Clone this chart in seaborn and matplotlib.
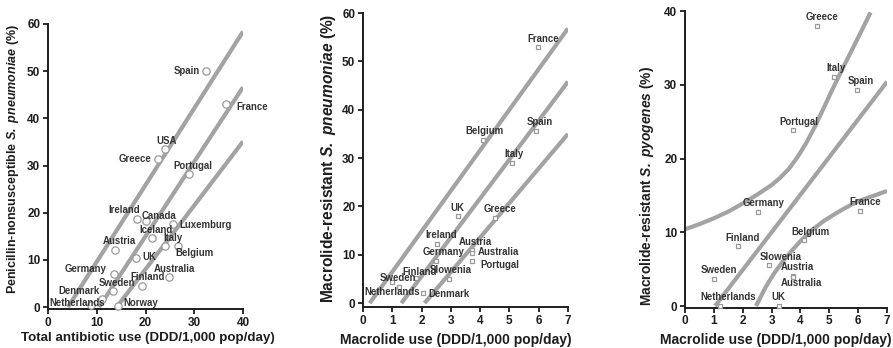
import matplotlib
matplotlib.use("Agg")
import matplotlib.pyplot as plt
import seaborn as sns
import pandas as pd

# ---- Panel A: total antibiotic use vs penicillin-nonsusceptible S. pneumoniae
pen_countries = ["Spain", "France", "USA", "Greece", "Portugal", "Ireland", "Canada",
                 "Luxemburg", "Iceland", "Italy", "Belgium", "Austria", "UK", "Germany",
                 "Australia", "Finland", "Sweden", "Denmark", "Netherlands", "Norway"]
pen_use = [32.5, 36.6, 23.9, 22.6, 28.9, 18.3, 20.2, 25.6, 21.3, 23.9, 26.7, 13.7,
           18.0, 13.5, 24.8, 19.3, 13.4, 11.0, 8.9, 14.4]
pen_res = [50.1, 43.0, 33.4, 31.3, 28.1, 18.7, 18.2, 17.7, 14.7, 13.0, 13.0, 12.0,
           10.3, 6.9, 6.4, 4.4, 3.3, 1.6, 0.4, 0.2]
pen_fit_x = [10.5, 40.0]
pen_fit_y = [0.0, 46.6]
pen_hi_x = [4.1, 40.0]
pen_hi_y = [0.0, 58.4]
pen_lo_x = [14.1, 40.0]
pen_lo_y = [0.0, 35.1]

# ---- Panel B: macrolide use vs macrolide-resistant S. pneumoniae
spn_countries = ["France", "Spain", "Belgium", "Italy", "UK", "Greece", "Ireland",
                 "Austria", "Australia", "Germany", "Portugal", "Slowenia", "Finland",
                 "Sweden", "Netherlands", "Denmark"]
spn_use = [5.98, 5.90, 4.11, 5.10, 3.23, 4.50, 2.53, 3.71, 3.71, 2.50, 3.71, 2.93,
           1.80, 1.00, 1.23, 2.05]
spn_res = [53.0, 35.6, 33.7, 29.0, 18.0, 17.7, 12.2, 11.0, 10.4, 8.8, 8.75, 5.0,
           5.3, 4.3, 3.4, 2.1]
spn_fit_x = [1.31, 7.0]
spn_fit_y = [0.0, 45.8]
spn_hi_x = [0.23, 7.0]
spn_hi_y = [0.0, 56.8]
spn_lo_x = [2.1, 7.0]
spn_lo_y = [0.0, 35.0]

# ---- Panel C: macrolide use vs macrolide-resistant S. pyogenes
spy_countries = ["Greece", "Italy", "Spain", "Portugal", "Germany", "France", "Belgium",
                 "Finland", "Slowenia", "Austria", "Australia", "Sweden", "Netherlands", "UK"]
spy_use = [4.56, 5.16, 5.96, 3.73, 2.53, 6.06, 4.14, 1.82, 2.92, 3.73, 3.73, 1.01, 1.21, 3.25]
spy_res = [38.0, 31.0, 29.3, 23.9, 12.7, 12.9, 8.9, 8.1, 5.6, 4.1, 3.9, 3.7, 0.0, 0.0]
spy_fit_x = [1.04, 7.0]
spy_fit_y = [0.0, 30.4]
spy_hi_x = [0.0, 0.5, 1.0, 1.5, 2.0, 2.5, 3.0, 3.3, 3.6, 3.9, 4.2, 4.5, 4.8,
            5.1, 5.5, 6.0, 6.43]
spy_hi_y = [10.4, 11.1, 11.9, 12.8, 13.9, 15.1, 16.4, 17.4, 18.6, 20.2, 22.1, 24.3, 26.8,
            29.3, 32.5, 36.4, 39.8]
spy_lo_x = [2.46, 2.8, 3.1, 3.4, 3.7, 4.0, 4.4, 4.8, 5.2, 5.6, 6.0, 6.5, 7.0]
spy_lo_y = [0.0, 2.6, 4.5, 6.1, 7.5, 8.8, 10.3, 11.5, 12.5, 13.4, 14.2, 14.9, 15.6]

# label placement: (dx, dy) in pixels from the marker, horizontal alignment
pen_label_pos = {
    "Spain": (-7, 0, "right"), "France": (10, -3, "left"), "USA": (2, 8, "center"),
    "Greece": (-7, 0, "right"), "Portugal": (4, 8, "center"), "Ireland": (-13, 9, "center"),
    "Canada": (13, 5, "center"), "Luxemburg": (7, -1, "left"), "Iceland": (4, 8, "center"),
    "Italy": (8, 8, "center"), "Belgium": (16, -7, "center"), "Austria": (5, 9, "center"),
    "UK": (7, 1, "left"), "Germany": (-7, 5, "right"), "Australia": (6, 8, "center"),
    "Finland": (5, 9, "center"), "Sweden": (4, 8, "center"), "Denmark": (-23, 8, "center"),
    "Netherlands": (-14, 2, "center"), "Norway": (5, 3, "left"),
}
spn_label_pos = {
    "France": (5, 8, "center"), "Spain": (4, 9, "center"), "Belgium": (1, 9, "center"),
    "Italy": (2, 9, "center"), "UK": (0, 8, "center"), "Greece": (5, 9, "center"),
    "Ireland": (4, 9, "center"), "Austria": (4, 8, "center"), "Australia": (6, 1, "left"),
    "Germany": (7, 9, "center"), "Portugal": (9, -4, "left"), "Slowenia": (2, 9, "center"),
    "Finland": (4, 6, "center"), "Sweden": (6, 4, "center"), "Netherlands": (-7, -5, "center"),
    "Denmark": (5, -1, "left"),
}
spy_label_pos = {
    "Greece": (5, 9, "center"), "Italy": (2, 9, "center"), "Spain": (4, 9, "center"),
    "Portugal": (6, 8, "center"), "Germany": (6, 9, "center"), "France": (5, 9, "center"),
    "Belgium": (6, 8, "center"), "Finland": (5, 8, "center"), "Slowenia": (11, 8, "center"),
    "Austria": (5, 9, "center"), "Australia": (9, -6, "center"), "Sweden": (5, 9, "center"),
    "Netherlands": (8, 9, "center"), "UK": (0, 9, "center"),
}

sns.set_style("ticks")
plt.rcParams["font.family"] = ["Liberation Sans", "DejaVu Sans"]
plt.rcParams["font.weight"] = "bold"
plt.rcParams["mathtext.fontset"] = "custom"
plt.rcParams["mathtext.rm"] = "Liberation Sans:bold"
plt.rcParams["mathtext.it"] = "Liberation Sans:bold:italic"
plt.rcParams["mathtext.bf"] = "Liberation Sans:bold"
plt.rcParams["mathtext.bfit"] = "Liberation Sans:bold:italic"

W, H = 893, 348
fig = plt.figure(figsize=(W / 100, H / 100), dpi=100)

LINE_COLOR = "#a3a3a3"
MARK_COLOR = "#9a9a9a"
LABEL_COLOR = "#333333"
AXIS_COLOR = "#1e1e1e"


def panel(rect, countries, xs, ys, fits, label_pos, marker, msize,
          xlim, ylim, xticks, yticks, xlabel, ylabel,
          xlab_size, xlab_coords, ylab_size, ylab_coords):
    ax = fig.add_axes(rect)
    for fx, fy in fits:
        sns.lineplot(x=fx, y=fy, ax=ax, color=LINE_COLOR, linewidth=3.0,
                     sort=False, estimator=None, solid_capstyle="butt")
    df = pd.DataFrame({"country": countries, "use": xs, "res": ys})
    sns.scatterplot(data=df, x="use", y="res", ax=ax, marker=marker, s=msize,
                    facecolor="white", edgecolor=MARK_COLOR, linewidth=0.9,
                    zorder=3, clip_on=False)
    for c, x, y in zip(countries, xs, ys):
        dx, dy, ha = label_pos[c]
        ax.annotate(c, (x, y), xytext=(dx, dy), textcoords="offset pixels",
                    ha=ha, va="center", fontsize=6.9, fontweight="bold",
                    color=LABEL_COLOR, zorder=4, annotation_clip=False)
    ax.set_xlim(*xlim)
    ax.set_ylim(*ylim)
    ax.set_xticks(xticks)
    ax.set_yticks(yticks)
    ax.tick_params(axis="both", direction="out", length=3.5, width=1.3,
                   labelsize=8.5, pad=2, color=AXIS_COLOR, labelcolor=AXIS_COLOR)
    for lab in ax.get_xticklabels() + ax.get_yticklabels():
        lab.set_fontweight("bold")
    for s in ("left", "bottom"):
        ax.spines[s].set_linewidth(1.4)
        ax.spines[s].set_color(AXIS_COLOR)
    sns.despine(ax=ax)
    ax.set_xlabel(xlabel, fontsize=xlab_size, fontweight="bold", color=AXIS_COLOR)
    ax.set_ylabel(ylabel, fontsize=ylab_size, fontweight="bold", color=AXIS_COLOR)
    ax.xaxis.set_label_coords(*xlab_coords)
    ax.yaxis.set_label_coords(*ylab_coords)
    ax.set_facecolor("none")
    return ax


def frac(left_px, right_px, top_px, bottom_px):
    return [left_px / W, 1 - bottom_px / H, (right_px - left_px) / W, (bottom_px - top_px) / H]


panel(frac(48, 243, 24, 309.4), pen_countries, pen_use, pen_res,
      [(pen_hi_x, pen_hi_y), (pen_fit_x, pen_fit_y), (pen_lo_x, pen_lo_y)],
      pen_label_pos, "o", 28, (0, 40), (-0.5, 60), [0, 10, 20, 30, 40],
      [0, 10, 20, 30, 40, 50, 60],
      "Total antibiotic use (DDD/1,000 pop/day)",
      r"Penicillin-nonsusceptible $\mathbfit{S.\ pneumoniae}$ (%)",
      9.6, (0.513, -(332 - 309.4) / 285.4),
      9.0, (-27 / 195, (309.4 - 159.5) / 285.4))

panel(frac(363, 568, 13, 307), spn_countries, spn_use, spn_res,
      [(spn_hi_x, spn_hi_y), (spn_fit_x, spn_fit_y), (spn_lo_x, spn_lo_y)],
      spn_label_pos, "s", 9, (0, 7), (-0.8, 60), list(range(8)),
      [0, 10, 20, 30, 40, 50, 60],
      "Macrolide use (DDD/1,000 pop/day)",
      r"Macrolide-resistant $\mathbfit{S.\ pneumoniae}$ (%)",
      10.0, (0.454, -(333 - 307) / 294),
      11.2, (-25 / 205, (307 - 158) / 294))

panel(frac(685, 887, 11, 307.5), spy_countries, spy_use, spy_res,
      [(spy_hi_x, spy_hi_y), (spy_fit_x, spy_fit_y), (spy_lo_x, spy_lo_y)],
      spy_label_pos, "s", 9, (0, 7), (-0.2, 40), list(range(8)),
      [0, 10, 20, 30, 40],
      "Macrolide use (DDD/1,000 pop/day)",
      r"Macrolide-resistant $\mathbfit{S.\ pyogenes}$ (%)",
      10.0, (0.45, -(333 - 307.5) / 296.5),
      9.9, (-29 / 202, (307.5 - 186) / 296.5))

fig.savefig("out.png", dpi=100, facecolor="white")
